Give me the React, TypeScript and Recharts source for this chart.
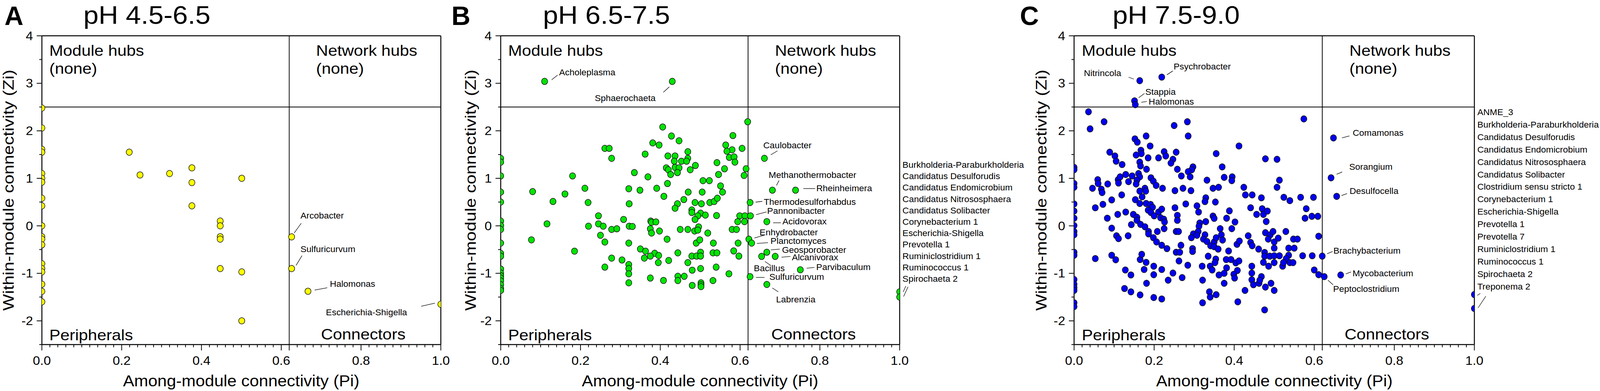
import React, { useState } from "react";
import { ScatterChart, Scatter, XAxis, YAxis, ReferenceLine } from "recharts";

const FONT = '"Liberation Sans", Arial, sans-serif';
// the figure's lettering is drawn wider than Arial, so text is stretched a bit
const SX = 1.13;

type Pt = [number, number]; // [Pi, Zi]
interface Named {
  name: string;
  pi: number;
  zi: number;
}

// ---------- A: pH 4.5-6.5 ----------
const acidNodes: Pt[] = [
  [0, 2.48], [0, 2.06], [0, 1.61], [0, 1.55], [0, 1.1], [0, 1.0], [0, 0.92], [0, 0.58], [0, 0.42],
  [0, 0.0], [0, -0.23], [0, -0.28], [0, -0.4], [0, -0.8], [0, -0.9], [0, -0.97], [0, -1.23],
  [0, -1.38], [0, -1.6],
  [0.219, 1.55], [0.246, 1.07], [0.32, 1.1], [0.376, 1.22], [0.376, 0.91], [0.501, 1.0],
  [0.376, 0.42], [0.447, 0.1], [0.447, 0.0], [0.447, -0.23], [0.447, -0.28], [0.447, -0.9],
  [0.501, -0.97], [0.501, -2.0],
];
const acidNamed: Named[] = [
  { name: "Arcobacter", pi: 0.626, zi: -0.233 },
  { name: "Sulfuricurvum", pi: 0.626, zi: -0.9 },
  { name: "Halomonas", pi: 0.667, zi: -1.378 },
  { name: "Escherichia-Shigella", pi: 1.0, zi: -1.652 },
];

// ---------- B: pH 6.5-7.5 ----------
const neutralNodes: Pt[] = [
  // Pi = 0 column
  [0, 1.42], [0, 1.34], [0, 1.05], [0, 0.71], [0, 0.5], [0, 0.1], [0, 0.005], [0, -0.077],
  [0, -0.364], [0, -0.58], [0, -0.64], [0, -0.91], [0, -0.995], [0, -1.05], [0, -1.1], [0, -1.16],
  [0, -1.24], [0, -1.32], [0, -1.36],
  // Pi = 1
  [1, -1.39], [1, -1.5],
  // upper cloud
  [0.619, 2.19], [0.406, 2.08], [0.582, 1.9], [0.428, 1.89], [0.447, 1.79], [0.381, 1.745],
  [0.397, 1.7], [0.564, 1.7], [0.58, 1.6], [0.605, 1.63], [0.261, 1.63], [0.272, 1.63],
  [0.278, 1.42], [0.362, 1.51], [0.469, 1.56], [0.567, 1.57], [0.573, 1.44], [0.585, 1.45],
  [0.587, 1.34], [0.419, 1.47], [0.437, 1.47], [0.469, 1.42], [0.435, 1.36], [0.453, 1.36],
  [0.466, 1.36], [0.488, 1.27], [0.415, 1.22], [0.42, 1.18], [0.437, 1.23], [0.447, 1.22],
  [0.443, 1.12], [0.426, 1.08], [0.475, 1.18], [0.542, 1.33], [0.561, 1.2], [0.615, 1.2],
  [0.61, 1.06], [0.546, 1.08], [0.335, 1.12], [0.369, 1.03], [0.18, 1.05], [0.507, 0.95],
  [0.523, 0.95], [0.418, 0.89], [0.551, 0.84], [0.211, 0.79], [0.321, 0.78], [0.349, 0.75],
  [0.391, 0.79], [0.47, 0.71], [0.505, 0.71], [0.556, 0.71], [0.08, 0.72], [0.161, 0.67],
  [0.409, 0.62],
  // middle cloud
  [0.131, 0.512], [0.219, 0.49], [0.322, 0.463], [0.459, 0.553], [0.443, 0.463], [0.437, 0.37],
  [0.487, 0.49], [0.503, 0.463], [0.524, 0.49], [0.535, 0.512], [0.543, 0.58], [0.479, 0.334],
  [0.479, 0.28], [0.501, 0.266], [0.494, 0.21], [0.513, 0.225], [0.541, 0.216], [0.599, 0.21],
  [0.612, 0.21], [0.245, 0.21], [0.308, 0.134], [0.487, 0.134], [0.594, 0.088], [0.611, 0.088],
  [0.116, 0.041], [0.22, -0.008], [0.245, 0.041], [0.257, -0.008], [0.278, -0.077], [0.291, -0.063],
  [0.322, -0.008], [0.33, -0.014], [0.376, 0.1], [0.378, 0.074], [0.389, 0.082], [0.375, -0.063],
  [0.378, -0.153], [0.398, -0.11], [0.45, -0.077], [0.469, -0.077], [0.486, -0.11], [0.496, -0.022],
  [0.494, -0.09], [0.519, -0.153], [0.58, -0.077], [0.591, -0.077], [0.25, -0.2], [0.261, -0.342],
  [0.417, -0.282], [0.321, -0.364], [0.49, -0.364], [0.499, -0.296], [0.533, -0.364],
  [0.595, -0.364], [0.077, -0.296],
  // lower cloud
  [0.185, -0.534], [0.35, -0.488], [0.363, -0.534], [0.386, -0.578], [0.396, -0.625],
  [0.375, -0.638], [0.36, -0.68], [0.444, -0.57], [0.479, -0.638], [0.491, -0.638], [0.501, -0.556],
  [0.501, -0.638], [0.532, -0.57], [0.542, -0.57], [0.584, -0.529], [0.597, -0.638], [0.278, -0.68],
  [0.304, -0.72], [0.321, -0.816], [0.321, -0.9], [0.321, -1.01], [0.321, -1.2], [0.395, -0.775],
  [0.421, -0.73], [0.469, -0.775], [0.261, -0.87], [0.501, -0.9], [0.48, -0.934], [0.54, -0.87],
  [0.572, -1.01], [0.375, -1.1], [0.408, -1.15], [0.444, -1.063], [0.444, -1.153], [0.46, -1.063],
  [0.48, -1.255], [0.502, -1.2], [0.502, -1.24], [0.502, -1.28], [0.532, -1.153],
];
const neutralNamed: Named[] = [
  { name: "Acholeplasma", pi: 0.11, zi: 3.04 },
  { name: "Sphaerochaeta", pi: 0.43, zi: 3.04 },
  { name: "Caulobacter", pi: 0.661, zi: 1.42 },
  { name: "Methanothermobacter", pi: 0.681, zi: 0.75 },
  { name: "Rheinheimera", pi: 0.739, zi: 0.75 },
  { name: "Thermodesulforhabdus", pi: 0.625, zi: 0.49 },
  { name: "Pannonibacter", pi: 0.626, zi: 0.21 },
  { name: "Acidovorax", pi: 0.667, zi: 0.088 },
  { name: "Enhydrobacter", pi: 0.622, zi: -0.282 },
  { name: "Planctomyces", pi: 0.629, zi: -0.364 },
  { name: "Geosporobacter", pi: 0.667, zi: -0.556 },
  { name: "Alcanivorax", pi: 0.688, zi: -0.644 },
  { name: "Bacillus", pi: 0.654, zi: -0.644 },
  { name: "Parvibaculum", pi: 0.751, zi: -0.926 },
  { name: "Sulfuricurvum", pi: 0.625, zi: -1.07 },
  { name: "Labrenzia", pi: 0.667, zi: -1.235 },
];
const neutralEdgeTaxa = [
  "Burkholderia-Paraburkholderia", "Candidatus Desulforudis", "Candidatus Endomicrobium",
  "Candidatus Nitrososphaera", "Candidatus Solibacter", "Corynebacterium 1", "Escherichia-Shigella",
  "Prevotella 1", "Ruminiclostridium 1", "Ruminococcus 1", "Spirochaeta 2",
];

// ---------- C: pH 7.5-9.0 ----------
const alkalineNodes: Pt[] = [
  // Pi = 0 column
  [0, 1.23], [0, 1.18], [0, 0.89], [0, 0.81], [0, 0.46], [0, 0.31], [0, 0.16], [0, 0.005],
  [0, -0.12], [0, -0.19], [0, -0.556], [0, -0.62], [0, -1.13], [0, -1.23], [0, -1.3], [0, -1.36],
  [0, -1.62], [0, -1.7],
  // Pi = 1
  [1, -1.447], [1, -1.74],
  // upper part
  [0.036, 2.4], [0.075, 2.19], [0.04, 2.04], [0.25, 2.11], [0.283, 2.19], [0.285, 1.89],
  [0.574, 2.25], [0.18, 1.89], [0.152, 1.83], [0.158, 1.76], [0.19, 1.68], [0.412, 1.68],
  [0.167, 1.59], [0.168, 1.52], [0.155, 1.49], [0.185, 1.43], [0.211, 1.43], [0.225, 1.56],
  [0.229, 1.47], [0.255, 1.55], [0.247, 1.4], [0.242, 1.32], [0.355, 1.52], [0.478, 1.41],
  [0.507, 1.4], [0.089, 1.55], [0.102, 1.47], [0.105, 1.36], [0.12, 1.29], [0.164, 1.34],
  [0.166, 1.26], [0.181, 1.19], [0.258, 1.19], [0.297, 1.24], [0.294, 1.18], [0.285, 1.14],
  [0.37, 1.24], [0.268, 1.05], [0.29, 1.03], [0.332, 0.96], [0.375, 1.02], [0.395, 1.03],
  [0.394, 0.95], [0.513, 0.96], [0.507, 0.81], [0.059, 0.97], [0.06, 0.89], [0.046, 0.79],
  [0.068, 0.77], [0.084, 0.88], [0.11, 0.97], [0.115, 1.03], [0.111, 0.9], [0.129, 1.08],
  [0.136, 0.93], [0.145, 1.05], [0.161, 1.1], [0.164, 1.03], [0.157, 0.96], [0.155, 0.88],
  [0.192, 1.01], [0.198, 0.94], [0.205, 0.85], [0.221, 0.79], [0.252, 0.74], [0.272, 0.79],
  [0.292, 0.74], [0.347, 0.79], [0.361, 0.81], [0.424, 0.81], [0.177, 0.79], [0.164, 0.73],
  [0.179, 0.73], [0.07, 0.7],
  // middle band
  [0.428, 0.65], [0.445, 0.65], [0.468, 0.59], [0.524, 0.6], [0.539, 0.53], [0.566, 0.6],
  [0.598, 0.6], [0.119, 0.65], [0.17, 0.61], [0.153, 0.55], [0.164, 0.47], [0.094, 0.545],
  [0.072, 0.452], [0.053, 0.38], [0.083, 0.16], [0.109, 0.24], [0.129, 0.29], [0.148, 0.24],
  [0.157, 0.18], [0.157, 0.115], [0.166, 0.03], [0.177, -0.02], [0.094, -0.05], [0.106, -0.21],
  [0.111, -0.27], [0.135, -0.21], [0.143, 0.025], [0.18, 0.47], [0.191, 0.45], [0.196, 0.39],
  [0.185, 0.33], [0.192, 0.28], [0.2, 0.21], [0.211, 0.29], [0.219, 0.35], [0.216, 0.17],
  [0.224, 0.14], [0.226, 0.08], [0.225, -0.06], [0.208, -0.12], [0.186, -0.12], [0.186, -0.17],
  [0.198, -0.25], [0.206, -0.34], [0.219, -0.41], [0.232, -0.48], [0.252, 0.38], [0.258, 0.22],
  [0.258, 0.115], [0.255, -0.12], [0.261, -0.12], [0.279, 0.46], [0.307, 0.42], [0.311, 0.29],
  [0.329, 0.59], [0.327, 0.51], [0.353, 0.5], [0.347, 0.205], [0.35, 0.156], [0.381, 0.16],
  [0.388, 0.315], [0.402, 0.08], [0.394, -0.06], [0.365, -0.06], [0.329, 0.088], [0.314, 0.06],
  [0.312, -0.008], [0.31, -0.12], [0.298, -0.17], [0.307, -0.2], [0.293, -0.25], [0.327, -0.19],
  [0.323, -0.28], [0.332, -0.33], [0.341, -0.42], [0.35, -0.34], [0.355, -0.25], [0.35, -0.44],
  [0.36, -0.49], [0.368, -0.19], [0.371, -0.3], [0.386, -0.53], [0.407, -0.39], [0.413, -0.32],
  [0.435, -0.21], [0.441, 0.38], [0.441, -0.35], [0.445, -0.42], [0.456, 0.24], [0.461, -0.49],
  [0.47, 0.36], [0.473, 0.24], [0.483, 0.31], [0.48, 0.09], [0.478, -0.145], [0.49, -0.19],
  [0.485, -0.28], [0.497, -0.12], [0.5, -0.34], [0.5, -0.47], [0.51, -0.26], [0.529, -0.12],
  [0.536, -0.47], [0.548, -0.28], [0.558, -0.28], [0.55, -0.47], [0.58, 0.36], [0.577, 0.16],
  [0.594, 0.2], [0.609, 0.2], [0.611, -0.22],
  // lower part
  [0.476, -0.56], [0.476, -0.64], [0.489, -0.64], [0.5, -0.63], [0.513, -0.63], [0.536, -0.62],
  [0.53, -0.69], [0.571, -0.63], [0.595, -0.63], [0.473, -0.77], [0.486, -0.85], [0.5, -0.775],
  [0.521, -0.85], [0.523, -0.775], [0.539, -0.775], [0.547, -0.775], [0.6, -0.93], [0.611, -1.03],
  [0.444, -0.85], [0.444, -0.995], [0.444, -1.137], [0.448, -1.24], [0.462, -1.21], [0.468, -1.07],
  [0.464, -1.145], [0.478, -1.29], [0.492, -1.21], [0.5, -1.36], [0.427, -1.36], [0.409, -1.6],
  [0.476, -1.77], [0.335, -0.64], [0.354, -0.7], [0.352, -0.775], [0.38, -0.71], [0.392, -0.71],
  [0.404, -0.78], [0.412, -0.74], [0.408, -0.94], [0.399, -1.02], [0.401, -1.1], [0.381, -0.885],
  [0.375, -1.0], [0.362, -1.035], [0.375, -1.21], [0.34, -0.85], [0.345, -0.93], [0.32, -0.85],
  [0.321, -1.145], [0.338, -1.39], [0.34, -1.5], [0.355, -1.45], [0.321, -1.62], [0.284, -0.83],
  [0.27, -1.09], [0.247, -0.995], [0.235, -1.145], [0.219, -0.92], [0.262, -0.74], [0.255, -0.556],
  [0.264, -0.556], [0.267, -0.41], [0.296, -0.48], [0.296, -0.54], [0.199, -0.85], [0.199, -1.03],
  [0.18, -0.77], [0.175, -0.92], [0.165, -0.71], [0.169, -0.6], [0.181, -1.21], [0.128, -0.93],
  [0.142, -1.035], [0.126, -1.32], [0.142, -1.39], [0.165, -1.455], [0.199, -1.51], [0.219, -1.54],
  [0.094, -0.62], [0.104, -0.715], [0.053, -0.69],
];
const alkalineNamed: Named[] = [
  { name: "Nitrincola", pi: 0.164, zi: 3.055 },
  { name: "Psychrobacter", pi: 0.219, zi: 3.13 },
  { name: "Stappia", pi: 0.151, zi: 2.63 },
  { name: "Halomonas", pi: 0.153, zi: 2.55 },
  { name: "Comamonas", pi: 0.648, zi: 1.85 },
  { name: "Sorangium", pi: 0.642, zi: 1.01 },
  { name: "Desulfocella", pi: 0.656, zi: 0.62 },
  { name: "Brachybacterium", pi: 0.62, zi: -0.638 },
  { name: "Mycobacterium", pi: 0.666, zi: -1.036 },
  { name: "Peptoclostridium", pi: 0.625, zi: -1.07 },
];
const alkalineEdgeTaxa = [
  "ANME_3", "Burkholderia-Paraburkholderia", "Candidatus Desulforudis", "Candidatus Endomicrobium",
  "Candidatus Nitrososphaera", "Candidatus Solibacter", "Clostridium sensu stricto 1",
  "Corynebacterium 1", "Escherichia-Shigella", "Prevotella 1", "Prevotella 7",
  "Ruminiclostridium 1", "Ruminococcus 1", "Spirochaeta 2", "Treponema 2",
];

const panelLetters = ["A", "B", "C"];
const panelTitles = ["pH 4.5-6.5", "pH 6.5-7.5", "pH 7.5-9.0"];
const xTitle = "Among-module connectivity (Pi)";
const yTitle = "Within-module connectivity (Zi)";
const PI_CUT = 0.62;
const ZI_CUT = 2.5;

// ---------- layout (pixels) ----------
const W = 4317;
const H = 1002;
const TOP = 91.7;
const BOTTOM = 883;
const YW = 100;
const RIGHT = 40;
const R = 8.2;

const xTicks: number[] = [];
for (let i = 0; i <= 50; i++) xTicks.push(i / 50);
const yTicks: number[] = [];
for (let i = 0; i <= 13; i++) yTicks.push(-2.5 + i * 0.5);

type Lab = { t: [number, number]; a?: "start" | "end"; l: [number, number, number, number] };

const acidLabels: Record<string, Lab> = {
  Arcobacter: { t: [24, -47], l: [7, -10, 26, -35] },
  Sulfuricurvum: { t: [24, -42], l: [12, -8, 28, -33] },
  Halomonas: { t: [59, -11], l: [18, -3, 52, -9] },
  "Escherichia-Shigella": { t: [-310, 28], l: [-53, 5, -16, -3] },
};
const neutralLabels: Record<string, Lab> = {
  Acholeplasma: { t: [39, -16], l: [19, -4, 35, -16] },
  Sphaerochaeta: { t: [-45, 50], a: "end", l: [-24, 28, -8, 14] },
  Caulobacter: { t: [-3, -26], l: [17, -9, 35, -19] },
  Methanothermobacter: { t: [-10, -31], l: [11, -12, 18, -25] },
  Rheinheimera: { t: [56, 3], l: [21, -4, 53, -4] },
  Thermodesulforhabdus: { t: [37, 6], l: [15, -1, 33, -3] },
  Pannonibacter: { t: [45, -5], l: [15, -3, 43, -10] },
  Acidovorax: { t: [42, 7], l: [17, 3, 38, 3] },
  Enhydrobacter: { t: [29, -10], l: [15, -3, 41, -10] },
  Planctomyces: { t: [51, 2], l: [14, 1, 44, -1] },
  Geosporobacter: { t: [41, 2], l: [11, -6, 35, -8] },
  Alcanivorax: { t: [45, 10], l: [17, 2, 41, 0] },
  Bacillus: { t: [-21, 38], l: [9, 13, 24, 23] },
  Parvibaculum: { t: [43, 1], l: [17, -4, 38, -6] },
  Sulfuricurvum: { t: [52, 8], l: [16, 2, 39, 2] },
  Labrenzia: { t: [25, 46], l: [15, 9, 31, 19] },
};
const alkalineLabels: Record<string, Lab> = {
  Nitrincola: { t: [-50, -12], a: "end", l: [-30, -9, -16, -4] },
  Psychrobacter: { t: [32, -20], l: [14, -6, 30, -16] },
  Stappia: { t: [29, -15], l: [11, -8, 27, -19] },
  Halomonas: { t: [36, 0], l: [16, -6, 31, -8] },
  Comamonas: { t: [52, -5], l: [23, 0, 43, -5] },
  Sorangium: { t: [49, -21], l: [15, -9, 30, -15] },
  Desulfocella: { t: [35, -6], l: [13, -2, 28, -7] },
  Brachybacterium: { t: [30, -6], l: [13, -6, 28, -12] },
  Mycobacterium: { t: [32, 3], l: [14, -3, 28, -8] },
  Peptoclostridium: { t: [24, 39], l: [10, 9, 24, 21] },
};

interface PanelCfg {
  left: number;
  width: number;
  color: string;
  nodes: Pt[];
  named: Named[];
  labels: Record<string, Lab>;
  letterX: number;
  titleX: number;
  yTitleX: number;
  connX: number;
  moduleNone: boolean;
  edge?: { names: string[]; x: number; y0: number; step: number; marks: number[][] };
}

const panels: PanelCfg[] = [
  {
    left: 112.6, width: 1076.4, color: "#ffff00", nodes: acidNodes, named: acidNamed,
    labels: acidLabels, letterX: 12, titleX: 225, yTitleX: 23, connX: 866, moduleNone: true,
  },
  {
    left: 1350.7, width: 1076.4, color: "#00e400", nodes: neutralNodes, named: neutralNamed,
    labels: neutralLabels, letterX: 1218, titleX: 1465, yTitleX: 1270, connX: 2081, moduleNone: false,
    edge: {
      names: neutralEdgeTaxa, x: 2435, y0: 430, step: 29.2,
      marks: [[2437, 748, 2444, 733], [2438, 760, 2450, 735]],
    },
  },
  {
    left: 2898.4, width: 1080, color: "#0000ee", nodes: alkalineNodes, named: alkalineNamed,
    labels: alkalineLabels, letterX: 2752, titleX: 3002, yTitleX: 2810, connX: 3628, moduleNone: false,
    edge: {
      names: alkalineEdgeTaxa, x: 3986, y0: 295, step: 31.9,
      marks: [[3986, 757, 3994, 752], [3988, 789, 4009, 759]],
    },
  },
];

function WText(props: {
  x: number; y: number; size: number; anchor?: string; rotate?: number; weight?: string;
  sx?: number; children: React.ReactNode;
}) {
  const { x, y, size, anchor = "start", rotate, weight = "normal", sx = SX } = props;
  const tr = `translate(${x},${y})${rotate ? ` rotate(${rotate})` : ""} scale(${sx},1)`;
  return (
    <text transform={tr} fontSize={size} textAnchor={anchor} fontFamily={FONT} fontWeight={weight} fill="#000">
      {props.children}
    </text>
  );
}

const renderXTick = (p: any) => {
  const v = p.payload.value as number;
  const k = Math.round(v * 50);
  const major = k % 10 === 0;
  const cut = Math.round(v * 100) === Math.round(PI_CUT * 100);
  const len = major || cut ? 15 : 7;
  return (
    <g>
      <line x1={p.x} x2={p.x} y1={p.y} y2={p.y + len} stroke="#000" strokeWidth={2} />
      {major && (
        <WText x={p.x} y={p.y + 52} size={31} anchor="middle">
          {v.toFixed(1)}
        </WText>
      )}
    </g>
  );
};

const renderYTick = (p: any) => {
  const v = p.payload.value as number;
  const major = Number.isInteger(v);
  const len = major ? 14 : 7;
  return (
    <g>
      <line x1={p.x - len} x2={p.x} y1={p.y} y2={p.y} stroke="#000" strokeWidth={2} />
      {major && (
        <WText x={p.x - 24} y={p.y + 11} size={31} anchor="end">
          {String(v)}
        </WText>
      )}
    </g>
  );
};

const plainDot = (color: string) => (p: any) =>
  <circle cx={p.cx} cy={p.cy} r={R} fill={color} stroke="#111" strokeWidth={1.5} />;

const namedDot = (color: string, labels: Record<string, Lab>) => (p: any) => {
  const lab = labels[p.payload.name];
  return (
    <g>
      <circle cx={p.cx} cy={p.cy} r={R} fill={color} stroke="#111" strokeWidth={1.5} />
      {lab && (
        <line
          x1={p.cx + lab.l[0]} y1={p.cy + lab.l[1]} x2={p.cx + lab.l[2]} y2={p.cy + lab.l[3]}
          stroke="#000" strokeWidth={1.3}
        />
      )}
      {lab && (
        <WText x={p.cx + lab.t[0]} y={p.cy + lab.t[1]} size={21.4} anchor={lab.a ?? "start"}>
          {p.payload.name}
        </WText>
      )}
    </g>
  );
};

function Panel({ cfg }: { cfg: PanelCfg }) {
  const pts = cfg.nodes.map(([pi, zi]) => ({ pi, zi }));
  return (
    <div style={{ position: "absolute", left: cfg.left - YW, top: 0 }}>
      <ScatterChart
        width={YW + cfg.width + RIGHT}
        height={H}
        margin={{ top: TOP, right: RIGHT, bottom: 0, left: 0 }}
      >
        <XAxis
          type="number" dataKey="pi" domain={[0, 1]} ticks={xTicks} interval={0} allowDataOverflow
          height={H - BOTTOM} tickSize={0} tickMargin={0} tickLine={false}
          axisLine={{ stroke: "#000", strokeWidth: 2.6 }} tick={renderXTick}
        />
        <YAxis
          type="number" dataKey="zi" domain={[-2.5, 4]} ticks={yTicks} interval={0} allowDataOverflow
          width={YW} tickSize={0} tickMargin={0} tickLine={false}
          axisLine={{ stroke: "#000", strokeWidth: 2.6 }} tick={renderYTick}
        />
        <ReferenceLine y={4} stroke="#000" strokeWidth={2.6} />
        <ReferenceLine x={1} stroke="#000" strokeWidth={2.6} />
        <ReferenceLine x={PI_CUT} stroke="#000" strokeWidth={2} />
        <ReferenceLine y={ZI_CUT} stroke="#000" strokeWidth={2} />
        <Scatter data={pts} isAnimationActive={false} shape={plainDot(cfg.color)} />
        <Scatter data={cfg.named} dataKey="zi" isAnimationActive={false} shape={namedDot(cfg.color, cfg.labels)} />
      </ScatterChart>
    </div>
  );
}

function Overlay() {
  return (
    <svg width={W} height={H} style={{ position: "absolute", left: 0, top: 0, pointerEvents: "none" }}>
      {panels.map((c, i) => {
        const cutX = c.left + PI_CUT * c.width;
        const midX = c.left + c.width / 2;
        return (
          <g key={i}>
            <WText x={c.letterX} y={64} size={68} weight="bold" sx={1.04}>
              {panelLetters[i]}
            </WText>
            <WText x={c.titleX} y={61} size={65}>
              {panelTitles[i]}
            </WText>
            <WText x={c.yTitleX} y={(TOP + BOTTOM) / 2} size={40} anchor="middle" rotate={-90}>
              <tspan dy="0.35em">{yTitle}</tspan>
            </WText>
            <WText x={midX} y={990} size={40} anchor="middle">
              {xTitle}
            </WText>
            <WText x={c.left + 20.5} y={143} size={39.5}>Module hubs</WText>
            {c.moduleNone && <WText x={c.left + 20.5} y={189} size={39.5}>(none)</WText>}
            <WText x={cutX + 73} y={143} size={39.5}>Network hubs</WText>
            <WText x={cutX + 73} y={189} size={39.5}>(none)</WText>
            <WText x={c.left + 20.5} y={872} size={39.5}>Peripherals</WText>
            <WText x={c.connX} y={870} size={39.5}>Connectors</WText>
            {c.edge &&
              c.edge.names.map((n, j) => (
                <WText key={n} x={c.edge!.x} y={c.edge!.y0 + j * c.edge!.step} size={21.4}>
                  {n}
                </WText>
              ))}
            {c.edge &&
              c.edge.marks.map((m, j) => (
                <line key={j} x1={m[0]} y1={m[1]} x2={m[2]} y2={m[3]} stroke="#000" strokeWidth={1.3} />
              ))}
          </g>
        );
      })}
    </svg>
  );
}

export default function App() {
  // the page may get a narrower viewport than asked for; fit the fixed figure into it
  const [fit] = useState(() => {
    const w = typeof window !== "undefined" ? window.innerWidth : W;
    const h = typeof window !== "undefined" ? window.innerHeight : H;
    return { kx: Math.min(w / W, 1), ky: Math.min(h / H, 1) };
  });
  return (
    <div
      style={{
        position: "absolute", left: 0, top: 0, width: W, height: H, background: "#fff", overflow: "hidden",
        transform: `scale(${fit.kx}, ${fit.ky})`, transformOrigin: "0 0",
      }}
    >
      {panels.map((c, i) => (
        <Panel key={i} cfg={c} />
      ))}
      <Overlay />
    </div>
  );
}
